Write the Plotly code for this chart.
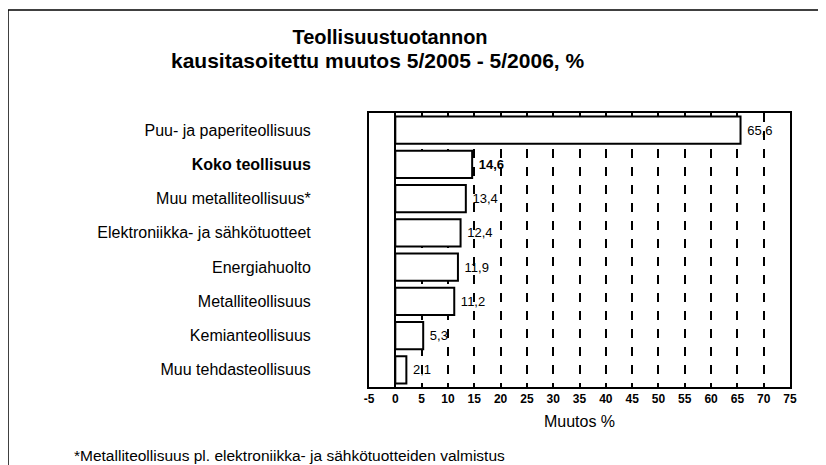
import plotly.graph_objects as go

title_lines = ["Teollisuustuotannon", "kausitasoitettu muutos 5/2005 - 5/2006, %"]
categories = [
    "Puu- ja paperiteollisuus",
    "Koko teollisuus",
    "Muu metalliteollisuus*",
    "Elektroniikka- ja sähkötuotteet",
    "Energiahuolto",
    "Metalliteollisuus",
    "Kemianteollisuus",
    "Muu tehdasteollisuus",
]
values = [65.6, 14.6, 13.4, 12.4, 11.9, 11.2, 5.3, 2.1]
x_ticks = list(range(-5, 80, 5))
x_title = "Muutos %"
footnote = "*Metalliteollisuus pl. elektroniikka- ja sähkötuotteiden valmistus"

bold_cat = "Koko teollisuus"
tick_text = [f"<b>{c}</b>" if c == bold_cat else c for c in categories]
labels = [
    " " + (f"<b>{v:.1f}</b>" if c == bold_cat else f"{v:.1f}").replace(".", ",")
    for c, v in zip(categories, values)
]

FONT = "Liberation Sans, Arial, sans-serif"

# page has an 8px body margin -> figure drawn 8px smaller, coordinates shifted
W, H = 818, 457
L, R, T, B = 361, 36, 105, 78
PW, PH = W - L - R, H - T - B


def px(x):
    return (x - 8 - L) / PW


def py(y):
    return 1 - (y - 8 - T) / PH


fig = go.Figure()
fig.add_trace(go.Bar(
    y=categories,
    x=values,
    orientation="h",
    marker=dict(color="white", line=dict(color="black", width=2)),
    text=labels,
    textposition="outside",
    textfont=dict(family=FONT, size=13, color="black"),
    cliponaxis=False,
    width=0.8,
))

fig.update_layout(
    width=W,
    height=H,
    margin=dict(l=L, r=R, t=T, b=B),
    paper_bgcolor="white",
    plot_bgcolor="white",
    showlegend=False,
    font=dict(family=FONT, color="black"),
    title=dict(
        text=f"<b>{title_lines[0]}</b>",
        x=(390 - 8) / W, xanchor="center",
        y=1 - (37 - 8) / H, yanchor="middle",
        font=dict(family=FONT, size=20, color="black"),
    ),
    xaxis=dict(
        range=[-5, 75],
        tickvals=x_ticks,
        ticktext=[f"<b>{t}</b>" for t in x_ticks],
        tickfont=dict(family=FONT, size=12, color="black"),
        showgrid=True,
        gridcolor="black",
        griddash="dash",
        gridwidth=1.5,
        zeroline=True,
        zerolinecolor="black",
        zerolinewidth=1.5,
        showline=True,
        linecolor="black",
        linewidth=2,
        mirror=True,
        ticks="",
        title=dict(text=x_title, font=dict(family=FONT, size=16, color="black"), standoff=10),
    ),
    yaxis=dict(
        categoryorder="array",
        categoryarray=categories,
        autorange="reversed",
        tickvals=categories,
        ticktext=tick_text,
        tickfont=dict(family=FONT, size=16, color="black"),
        ticklabelstandoff=53,
        showline=True,
        linecolor="black",
        linewidth=2,
        mirror=True,
        showgrid=False,
        ticks="",
    ),
    bargap=0.2,
)

# second title line
fig.add_annotation(
    text=f"<b>{title_lines[1]}</b>",
    xref="paper", yref="paper",
    x=px(377), xanchor="center",
    y=py(60), yanchor="middle",
    showarrow=False,
    font=dict(family=FONT, size=21, color="black"),
)

# outer frame (left and top edges of the scanned page box)
fig.add_shape(type="line", xref="paper", yref="paper",
              x0=px(8), x1=px(8), y0=py(10), y1=py(480),
              line=dict(color="black", width=1.5))
fig.add_shape(type="line", xref="paper", yref="paper",
              x0=px(8), x1=px(840), y0=py(10), y1=py(10),
              line=dict(color="black", width=1.5))

fig.add_annotation(
    text=footnote,
    xref="paper", yref="paper",
    x=px(72), xanchor="left",
    y=py(455), yanchor="middle",
    showarrow=False,
    font=dict(family=FONT, size=15.5, color="black"),
)

fig.write_html("out.html")
